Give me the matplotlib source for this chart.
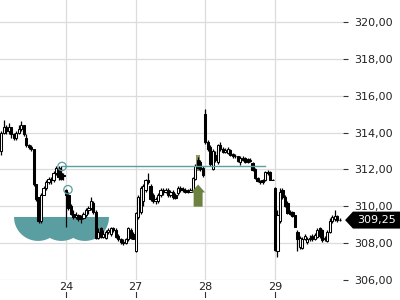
import matplotlib
matplotlib.use("Agg")
import matplotlib.pyplot as plt
from matplotlib.patches import Polygon, Rectangle
from matplotlib.transforms import blended_transform_factory
import numpy as np

# 30-min bars, days 23 (partial) .. 29 (partial)
day_labels = ["24", "27", "28", "29"]
day_starts = [26, 54, 82, 110]

opens = [
    313.0, 314.0, 314.3, 314.1, 314.3, 313.9, 313.7, 314.0, 314.2, 314.4,
    313.7, 313.3, 313.2, 313.1, 311.2, 310.5, 309.2, 310.6, 311.0, 311.3,
    311.5, 311.4, 311.8, 312.1, 311.8, 311.65,
    310.9, 310.6, 310.0, 309.6, 309.4, 309.5, 309.3, 309.35, 309.5, 309.8,
    309.9, 310.2, 309.7, 308.3, 308.8, 308.35, 308.3, 308.6, 308.5, 308.8,
    308.7, 308.4, 308.25, 308.05, 308.0, 308.2, 308.7, 308.5,
    307.6, 309.4, 309.7, 310.3, 310.9, 311.45, 311.1, 310.6, 310.3, 310.3,
    310.6, 310.9, 310.8, 310.9, 310.6, 310.8, 310.6, 310.7, 311.0, 310.9,
    310.9, 310.75, 310.8, 310.85, 311.5, 312.5, 312.4, 312.1,
    315.0, 313.5, 313.2, 312.0, 312.8, 312.4, 313.35, 313.1, 312.95, 312.9,
    313.05, 312.85, 312.7, 312.7, 312.4, 312.6, 312.6, 312.55, 312.45, 312.35,
    312.0, 311.55, 311.35, 311.45, 311.4, 311.85, 311.85, 311.45,
    311.0, 307.6, 309.2, 310.9, 310.5, 310.2, 309.7, 309.7, 309.5, 308.6,
    307.8, 307.75, 308.25, 308.05, 308.25, 308.4, 308.2, 308.35, 308.8, 308.7,
    308.2, 308.1, 308.6, 309.2, 309.3, 309.45, 309.25,
]
highs = [
    314.1, 314.7, 314.4, 314.5, 314.3, 314.0, 314.1, 314.4, 314.6, 314.4,
    313.9, 313.4, 313.3, 313.1, 311.2, 310.5, 310.7, 311.1, 311.4, 311.6,
    311.6, 311.9, 312.2, 312.2, 312.16, 311.8,
    310.95, 310.8, 310.1, 309.8, 309.7, 309.6, 309.5, 309.7, 309.9, 310.0,
    310.5, 310.3, 309.8, 308.8, 308.9, 308.7, 308.7, 308.8, 308.9, 308.9,
    308.8, 308.5, 308.3, 308.2, 308.3, 308.9, 308.8, 308.6,
    309.7, 310.6, 311.1, 311.2, 311.5, 311.8, 311.2, 310.7, 310.5, 310.7,
    311.0, 311.0, 311.0, 311.0, 310.9, 310.9, 310.7, 311.1, 311.1, 311.05,
    311.0, 310.95, 311.0, 311.6, 312.3, 312.65, 312.5, 312.2,
    315.3, 313.6, 313.3, 313.1, 313.0, 313.4, 313.5, 313.2, 313.15, 313.2,
    313.1, 312.9, 312.85, 312.75, 312.7, 312.7, 312.65, 312.6, 312.6, 312.4,
    312.1, 311.6, 311.45, 311.5, 311.9, 311.95, 311.9, 311.5,
    311.05, 309.8, 311.0, 311.0, 310.6, 310.3, 309.8, 309.75, 309.55, 308.7,
    308.4, 308.35, 308.5, 308.35, 308.45, 308.5, 308.55, 308.8, 308.85, 308.75,
    308.4, 308.7, 309.35, 309.5, 309.8, 309.5, 309.35,
]
lows = [
    312.8, 313.9, 313.9, 313.9, 313.7, 313.6, 313.6, 313.9, 314.1, 313.8,
    313.2, 313.1, 313.0, 311.1, 310.3, 309.1, 309.1, 310.6, 310.9, 311.2,
    311.2, 311.3, 311.7, 311.4, 311.4, 311.4,
    308.85, 309.8, 309.5, 309.3, 309.3, 309.2, 309.1, 309.3, 309.4, 309.6,
    309.8, 309.6, 308.2, 308.2, 308.3, 308.3, 308.2, 308.5, 308.4, 308.6,
    308.3, 308.1, 307.95, 307.9, 307.95, 308.1, 308.2, 308.2,
    307.5, 309.3, 309.6, 310.0, 310.8, 311.2, 310.3, 310.2, 310.1, 310.2,
    310.5, 310.6, 310.7, 310.5, 310.5, 310.4, 310.4, 310.6, 310.8, 310.8,
    310.7, 310.7, 310.75, 310.8, 311.4, 312.0, 311.9, 311.6,
    313.4, 313.0, 312.2, 311.95, 312.4, 312.3, 313.0, 312.9, 312.9, 312.85,
    312.7, 312.6, 312.6, 312.4, 312.25, 312.45, 312.35, 312.35, 312.4, 311.9,
    311.5, 311.3, 311.2, 311.2, 311.35, 311.7, 311.4, 311.4,
    307.6, 307.25, 309.1, 310.4, 309.95, 309.6, 309.5, 309.4, 308.85, 307.6,
    307.7, 307.7, 308.15, 307.95, 308.1, 308.1, 308.15, 308.3, 308.3, 308.05,
    308.1, 308.05, 308.55, 309.1, 309.2, 309.15, 309.2,
]
closes = [
    314.0, 314.3, 314.1, 314.3, 313.9, 313.7, 314.0, 314.2, 314.4, 313.9,
    313.3, 313.2, 313.1, 311.2, 310.4, 309.2, 310.6, 311.0, 311.3, 311.5,
    311.4, 311.8, 312.1, 311.6, 311.5, 311.7,
    310.6, 309.9, 309.6, 309.4, 309.5, 309.3, 309.35, 309.6, 309.8, 309.9,
    310.3, 309.7, 308.3, 308.6, 308.35, 308.5, 308.6, 308.7, 308.8, 308.7,
    308.35, 308.2, 308.05, 308.0, 308.2, 308.8, 308.3, 308.25,
    309.65, 310.5, 311.0, 311.1, 311.4, 311.3, 310.4, 310.3, 310.4, 310.6,
    310.9, 310.8, 310.9, 310.6, 310.8, 310.5, 310.45, 311.0, 310.9, 310.95,
    310.75, 310.85, 310.9, 311.55, 312.2, 312.1, 312.0, 311.7,
    313.5, 313.1, 312.3, 313.0, 312.5, 313.3, 313.1, 312.95, 313.05, 313.1,
    312.8, 312.7, 312.75, 312.45, 312.6, 312.5, 312.4, 312.4, 312.5, 311.95,
    311.55, 311.35, 311.3, 311.3, 311.85, 311.8, 311.45, 311.45,
    307.65, 309.5, 310.8, 310.5, 310.0, 309.65, 309.6, 309.45, 308.9, 308.2,
    308.3, 308.25, 308.4, 308.25, 308.3, 308.2, 308.45, 308.7, 308.4, 308.15,
    308.3, 308.6, 309.2, 309.4, 309.45, 309.25, 309.25,
]
last_price = 309.25

# drawing annotations
resistance = 312.16
resistance_span = (24.4, 106)
circle_x = [24.4, 26.8]
circle_y = [312.16, 310.9]
bowl_centers = [14.8, 24.2, 33.6]
bowl_halfwidth = 9.7
bowl_top = 309.42
bowl_depth = 1.3
arrow_x = 79.1
arrow_levels = (309.98, 310.75, 311.18)  # bottom, head base, tip
highlight_bar = 78.9
highlight_range = (311.9, 312.8)

teal = "#5b9ea2"
olive = "#6d8240"

fig = plt.figure(figsize=(4, 3), dpi=100)
ax = fig.add_axes([0, 20 / 300, 343 / 400, 280 / 300])
ax.set_xlim(-0.52, 137.33)
ax.set_ylim(306, 321.19)

for s in ax.spines.values():
    s.set_visible(False)

ax.set_yticks(np.arange(306, 321, 2))
ax.set_yticklabels([f"{v:.2f}".replace(".", ",") for v in np.arange(306, 321, 2)])
ax.yaxis.tick_right()
ax.tick_params(axis="y", length=3.6, width=0.8, color="#333333", pad=4.3,
               labelsize=8, labelcolor="#222222")
ax.set_xticks(day_starts)
ax.set_xticklabels(day_labels)
ax.tick_params(axis="x", length=0, pad=1.5, labelsize=8, labelcolor="#222222")
ax.grid(True, color="#dcdcdc", linewidth=0.9, zorder=0)
ax.set_axisbelow(True)

# little tick marks below the day labels
trans_x = blended_transform_factory(ax.transData, ax.transAxes)
for d in day_starts:
    ax.plot([d, d], [-0.043, -0.061], color="#333333", lw=0.8,
            transform=trans_x, clip_on=False)

# rounding bottom shape
xs = np.linspace(bowl_centers[0] - bowl_halfwidth, bowl_centers[-1] + bowl_halfwidth, 300)
depth = np.zeros_like(xs)
for c in bowl_centers:
    u = np.clip(1 - ((xs - c) / bowl_halfwidth) ** 2, 0, None)
    depth = np.maximum(depth, np.sqrt(u))
pts = np.column_stack([xs, bowl_top - bowl_depth * depth])
pts = np.vstack([[xs[0], bowl_top], pts, [xs[-1], bowl_top]])
ax.add_patch(Polygon(pts, closed=True, facecolor=teal, edgecolor="none", zorder=1))

# highlighted bar
ax.add_patch(Rectangle((highlight_bar - 0.8, highlight_range[0]), 1.6,
                       highlight_range[1] - highlight_range[0],
                       facecolor="#8a9b5c", edgecolor="none", zorder=1))

# candles
x = np.arange(len(closes))
o = np.array(opens)
c = np.array(closes)
ax.vlines(x, lows, highs, color="black", linewidth=0.9, zorder=2)
up = c >= o
ax.bar(x[up], c[up] - o[up], bottom=o[up], width=0.9, facecolor="white",
       edgecolor="black", linewidth=0.75, zorder=3)
ax.bar(x[~up], c[~up] - o[~up], bottom=o[~up], width=0.9, facecolor="black",
       edgecolor="black", linewidth=0.75, zorder=3)

# resistance line and circles
ax.plot(resistance_span, [resistance, resistance], color=teal, lw=1, zorder=4)
ax.scatter(circle_x, circle_y, s=36, facecolors="none", edgecolors=teal,
           linewidths=0.9, zorder=5)

# up arrow
b, hb, tip = arrow_levels
arrow = [(arrow_x - 1.8, b), (arrow_x + 1.8, b), (arrow_x + 1.8, hb),
         (arrow_x + 2.8, hb), (arrow_x, tip), (arrow_x - 2.8, hb),
         (arrow_x - 1.8, hb)]
ax.add_patch(Polygon(arrow, closed=True, facecolor=olive, edgecolor="none", zorder=6))

# last price tag
trans_y = blended_transform_factory(ax.transAxes, ax.transData)
hh = 0.46
tag = [(1.006, last_price), (1.029, last_price + hh), (1.17, last_price + hh),
       (1.17, last_price - hh), (1.029, last_price - hh)]
ax.add_patch(Polygon(tag, closed=True, facecolor="black", edgecolor="none",
                     transform=trans_y, clip_on=False, zorder=7))
ax.text(1.041, last_price, f"{last_price:.2f}".replace(".", ","), color="white",
        fontsize=8, ha="left", va="center", transform=trans_y, zorder=8)

fig.savefig("out.png", dpi=100)
